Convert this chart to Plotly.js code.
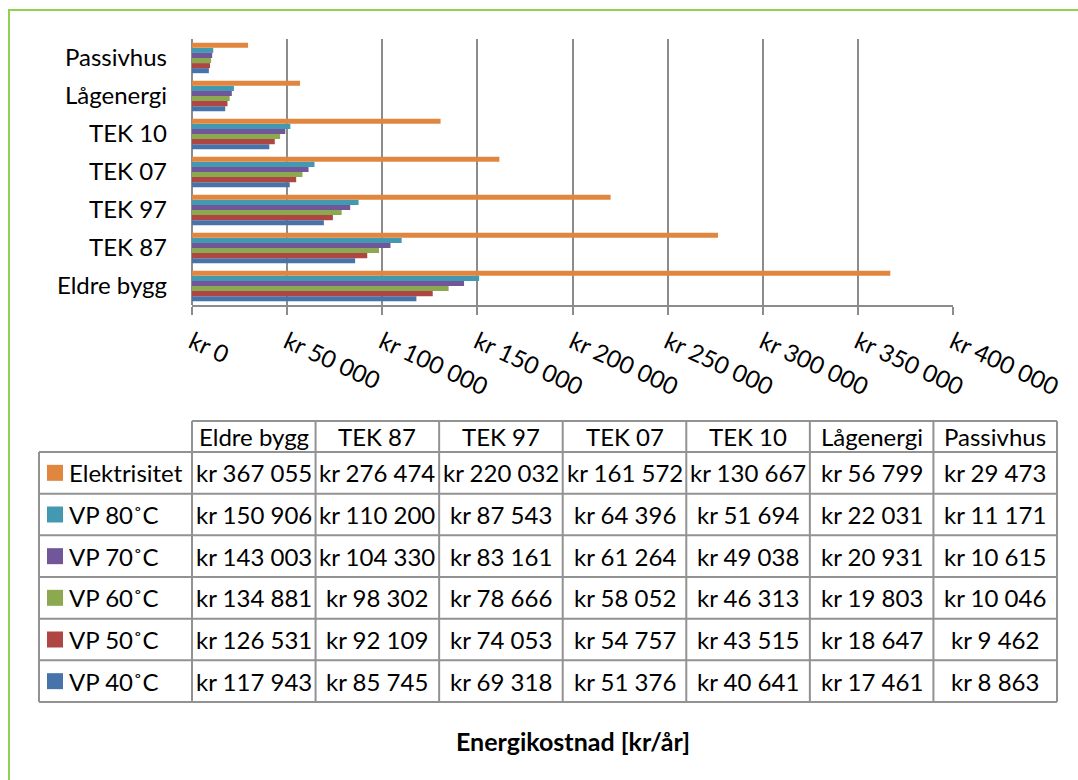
<!DOCTYPE html>
<html>
<head>
<meta charset="utf-8">
<script src="https://cdn.plot.ly/plotly-3.0.1.min.js"></script>
<style>html,body{margin:0;padding:0;background:#fff;}#chart{width:1078px;height:780px;}</style>
</head>
<body>
<div id="chart"></div>
<script>
// ---- data ----
const categories = ['Eldre bygg', 'TEK 87', 'TEK 97', 'TEK 07', 'TEK 10', 'Lågenergi', 'Passivhus'];
const seriesNames = ['Elektrisitet', 'VP 80˚C', 'VP 70˚C', 'VP 60˚C', 'VP 50˚C', 'VP 40˚C'];
const elektrisitet = [367055, 276474, 220032, 161572, 130667, 56799, 29473];
const vp80 = [150906, 110200, 87543, 64396, 51694, 22031, 11171];
const vp70 = [143003, 104330, 83161, 61264, 49038, 20931, 10615];
const vp60 = [134881, 98302, 78666, 58052, 46313, 19803, 10046];
const vp50 = [126531, 92109, 74053, 54757, 43515, 18647, 9462];
const vp40 = [117943, 85745, 69318, 51376, 40641, 17461, 8863];
const tickVals = [0, 50000, 100000, 150000, 200000, 250000, 300000, 350000, 400000];
const tickText = ['kr 0', 'kr 50 000', 'kr 100 000', 'kr 150 000', 'kr 200 000', 'kr 250 000', 'kr 300 000', 'kr 350 000', 'kr 400 000'];
const axisTitle = 'Energikostnad [kr/år]';

// ---- styling ----
const seriesValues = [elektrisitet, vp80, vp70, vp60, vp50, vp40];
const seriesColors = ['#E0863F', '#4299B1', '#71579A', '#8CA94F', '#AE4744', '#4674AA'];
const FONT = 'Lato, "Open Sans", sans-serif';
const FS = 24;
const W = 1078, H = 780;
const ML = 192, MR = 125, MT = 39, MB = 475;
const PW = W - ML - MR, PH = H - MT - MB;
const X = px => (px - ML) / PW;
const Y = py => (H - MB - py) / PH;

function fmt(v) {
  return 'kr ' + String(v).replace(/\B(?=(\d{3})+(?!\d))/g, ' ');
}

// bars: first trace drawn at the bottom of each group, so reverse
const traces = [];
for (let i = seriesNames.length - 1; i >= 0; i--) {
  traces.push({
    type: 'bar', orientation: 'h',
    name: seriesNames[i], y: categories, x: seriesValues[i],
    marker: {color: seriesColors[i], line: {width: 0}},
    hoverinfo: 'x+name'
  });
}

// ---- table geometry ----
const tLeft = 39, tKeyRight = 192, tRight = 1057;
const headTop = 421, headBottom = 452;
const rowH = (702 - 452) / 6;
const colEdges = [];
for (let c = 0; c <= categories.length; c++) colEdges.push(tKeyRight + c * (tRight - tKeyRight) / categories.length);
const rowEdges = [];
for (let r = 0; r <= seriesNames.length; r++) rowEdges.push(headBottom + r * rowH);
const lineStyle = {color: '#929292', width: 2};

const shapes = [];
// green frame
shapes.push({type: 'rect', xref: 'paper', yref: 'paper', x0: X(9), x1: X(1100), y0: Y(10), y1: Y(800),
  line: {color: '#92D050', width: 2}, fillcolor: 'rgba(0,0,0,0)', layer: 'below'});
// horizontal table lines
shapes.push({type: 'line', xref: 'paper', yref: 'paper', x0: X(tKeyRight), x1: X(tRight), y0: Y(headTop), y1: Y(headTop), line: lineStyle});
rowEdges.forEach(ry => shapes.push({type: 'line', xref: 'paper', yref: 'paper', x0: X(tLeft), x1: X(tRight), y0: Y(ry), y1: Y(ry), line: lineStyle}));
// vertical table lines
shapes.push({type: 'line', xref: 'paper', yref: 'paper', x0: X(tLeft), x1: X(tLeft), y0: Y(headBottom), y1: Y(rowEdges[rowEdges.length - 1]), line: lineStyle});
colEdges.forEach(cx => shapes.push({type: 'line', xref: 'paper', yref: 'paper', x0: X(cx), x1: X(cx), y0: Y(headTop), y1: Y(rowEdges[rowEdges.length - 1]), line: lineStyle}));
// legend keys
seriesNames.forEach((n, r) => {
  const cy = (rowEdges[r] + rowEdges[r + 1]) / 2;
  shapes.push({type: 'rect', xref: 'paper', yref: 'paper', x0: X(47), x1: X(63), y0: Y(cy - 8), y1: Y(cy + 8),
    line: {width: 0}, fillcolor: seriesColors[r]});
});

const annotations = [];
const tfont = {family: FONT, size: FS, color: '#000'};
categories.forEach((c, i) => {
  annotations.push({xref: 'paper', yref: 'paper', x: X((colEdges[i] + colEdges[i + 1]) / 2), y: Y((headTop + headBottom) / 2),
    text: c, showarrow: false, xanchor: 'center', yanchor: 'middle', font: tfont});
});
seriesNames.forEach((n, r) => {
  const cy = (rowEdges[r] + rowEdges[r + 1]) / 2;
  annotations.push({xref: 'paper', yref: 'paper', x: X(67), y: Y(cy), text: n, showarrow: false,
    xanchor: 'left', yanchor: 'middle', font: tfont});
  seriesValues[r].forEach((v, i) => {
    annotations.push({xref: 'paper', yref: 'paper', x: X((colEdges[i] + colEdges[i + 1]) / 2), y: Y(cy),
      text: fmt(v), showarrow: false, xanchor: 'center', yanchor: 'middle', font: tfont});
  });
});
annotations.push({xref: 'paper', yref: 'paper', x: X(573), y: Y(741), text: '<b>' + axisTitle + '</b>', showarrow: false,
  xanchor: 'center', yanchor: 'middle', font: {family: FONT, size: 25, color: '#000'}});

const layout = {
  width: W, height: H,
  margin: {l: ML, r: MR, t: MT, b: MB, pad: 0},
  paper_bgcolor: '#fff', plot_bgcolor: '#fff',
  showlegend: false,
  barmode: 'group', bargap: 0.2, bargroupgap: 0,
  font: {family: FONT, size: FS, color: '#000'},
  xaxis: {
    range: [0, 400000], tickvals: tickVals, ticktext: tickText, tickangle: 25,
    showgrid: true, gridcolor: '#8c8c8c', gridwidth: 2,
    zeroline: true, zerolinecolor: '#8c8c8c', zerolinewidth: 2,
    showline: true, linecolor: '#8c8c8c', linewidth: 2,
    ticks: 'outside', ticklen: 8, tickwidth: 2, tickcolor: '#8c8c8c',
    ticklabelstandoff: 4,
    tickfont: {family: FONT, size: FS, color: '#000'}, automargin: false, fixedrange: true
  },
  yaxis: {
    type: 'category', categoryorder: 'array', categoryarray: categories,
    showgrid: false, zeroline: false, showline: false, ticks: '',
    ticklabelstandoff: 24,
    tickfont: {family: FONT, size: FS, color: '#000'}, automargin: false, fixedrange: true
  },
  shapes: shapes,
  annotations: annotations
};

Plotly.newPlot('chart', traces, layout, {displayModeBar: false, staticPlot: true});
</script>
</body>
</html>
